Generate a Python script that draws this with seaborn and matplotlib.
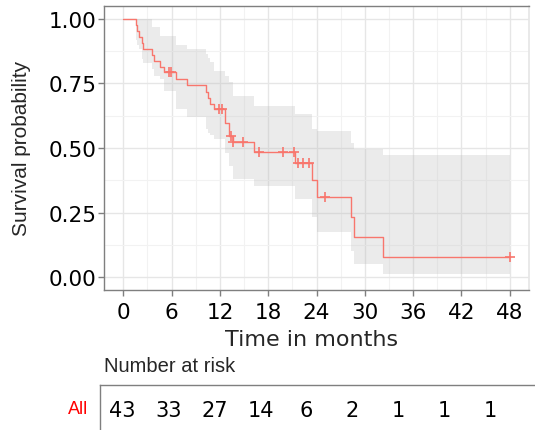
import matplotlib
matplotlib.use("Agg")
import matplotlib.pyplot as plt
import seaborn as sns
import pandas as pd
import numpy as np

# ---- data ----
step_times = [0, 1.58, 1.74, 1.92, 2.32, 2.42, 3.56, 3.85, 4.5, 5.0, 6.6, 7.9,
              10.3, 10.55, 10.8, 11.3, 12.65, 13.1, 13.6, 16.2, 21.3, 23.4,
              24.1, 28.3, 28.7, 32.3, 48.0]
surv = [1.0, 0.977, 0.953, 0.930, 0.907, 0.884, 0.861, 0.837, 0.814, 0.795,
        0.767, 0.744, 0.717, 0.694, 0.672, 0.651, 0.595, 0.548, 0.522, 0.484,
        0.443, 0.377, 0.311, 0.233, 0.156, 0.078, 0.078]
lower = [1.0, 0.92, 0.90, 0.884, 0.845, 0.83, 0.806, 0.78, 0.767, 0.72, 0.65,
         0.62, 0.574, 0.56, 0.55, 0.535, 0.48, 0.43, 0.38, 0.354, 0.302, 0.233,
         0.174, 0.10, 0.05, 0.012, 0.012]
upper = [1.0, 1.0, 1.0, 1.0, 1.0, 1.0, 0.97, 0.97, 0.934, 0.934, 0.90, 0.884,
         0.864, 0.85, 0.833, 0.80, 0.78, 0.756, 0.70, 0.663, 0.632, 0.574,
         0.567, 0.52, 0.496, 0.473, 0.473]

censor_times = [5.62, 5.9, 11.9, 12.3, 13.4, 13.65, 14.9, 16.9, 19.85, 21.2,
                21.7, 22.3, 23.1, 25.06, 48.0]
censor_surv = [0.795, 0.795, 0.651, 0.651, 0.548, 0.522, 0.522, 0.484, 0.484,
               0.484, 0.443, 0.443, 0.443, 0.311, 0.078]

risk_times = [0, 6, 12, 18, 24, 30, 36, 42, 48]
risk_counts = [43, 33, 27, 14, 6, 2, 1, 1, 1]
strata_label = "All"

x_ticks = [0, 6, 12, 18, 24, 30, 36, 42, 48]
y_ticks = [0.0, 0.25, 0.5, 0.75, 1.0]
y_tick_labels = ["0.00", "0.25", "0.50", "0.75", "1.00"]

# ---- styling ----
sns.set_theme(style="white")
plt.rcParams["font.family"] = ["DejaVu Sans"]

line_color = "#F8766D"
axis_color = "#7F7F7F"
grid_major = "#E6E6E6"
grid_minor = "#F2F2F2"

W, H = 535, 431
fig = plt.figure(figsize=(W / 100, H / 100), dpi=100)

def fx(px):
    return px / W

def fy(py):
    return 1 - py / H

# main axes
ax = fig.add_axes([fx(104), fy(291), fx(529) - fx(104), fy(7) - fy(291)])
df = pd.DataFrame({"time": step_times, "surv": surv, "lower": lower, "upper": upper})
ax.fill_between(df["time"], df["lower"], df["upper"], step="post",
                color="#BEBEBE", alpha=0.3, linewidth=0, zorder=2)
sns.lineplot(data=df, x="time", y="surv", drawstyle="steps-post", color=line_color,
             linewidth=1.0, ax=ax, zorder=3, estimator=None, sort=False)
cdf = pd.DataFrame({"time": censor_times, "surv": censor_surv})
sns.scatterplot(data=cdf, x="time", y="surv", marker="+", s=45, color=line_color,
                linewidth=1.2, ax=ax, zorder=4, legend=False)

ax.set_xlim(-2.4, 50.4)
ax.set_ylim(-0.05, 1.05)
ax.set_xticks(x_ticks)
ax.set_xticks([3, 9, 15, 21, 27, 33, 39, 45], minor=True)
ax.set_yticks(y_ticks)
ax.set_yticks([0.125, 0.375, 0.625, 0.875], minor=True)
ax.set_yticklabels(y_tick_labels)
ax.grid(True, which="major", color=grid_major, linewidth=1.0, zorder=0)
ax.grid(True, which="minor", color=grid_minor, linewidth=0.8, zorder=0)
ax.set_axisbelow(True)
for s in ["left", "bottom", "top"]:
    ax.spines[s].set_color(axis_color)
    ax.spines[s].set_linewidth(1.0)
ax.spines["right"].set_color("#E6E6E6")
ax.tick_params(axis="both", which="major", length=4, width=1, color=axis_color,
               labelsize=15.5, labelcolor="black", left=True, bottom=True)
ax.tick_params(axis="x", which="major", pad=4.5)
ax.tick_params(axis="y", which="major", pad=1.5)
ax.tick_params(axis="both", which="minor", length=0)
ax.set_xlabel("Time in months", fontsize=16, ha="center", va="center")
ax.xaxis.set_label_coords((312 - 104) / 425, (291 - 340) / 284)
ax.set_ylabel("Survival probability", fontsize=15, family=["Liberation Sans"],
              ha="center", va="center")
ax.yaxis.set_label_coords((22 - 104) / 425, (291 - 148) / 284)

# risk table
x0_px, scale = 122.7, 7.656
tax = fig.add_axes([fx(100), fy(431), fx(535) - fx(100), fy(386) - fy(431)])
tax.set_xlim((100 - x0_px) / scale, (535 - x0_px) / scale)
tax.set_ylim(0, 1)
for t, n in zip(risk_times, risk_counts):
    tax.text(t, 0.45, str(n), ha="center", va="center", fontsize=15, color="black")
tax.set_xticks([])
tax.set_yticks([])
for s in ["right", "bottom"]:
    tax.spines[s].set_visible(False)
for s in ["left", "top"]:
    tax.spines[s].set_color(axis_color)
    tax.spines[s].set_linewidth(1.0)
fig.text(fx(88), fy(410), strata_label, ha="right", va="center", fontsize=13,
         color="#FF0000", family=["Liberation Sans"])
fig.text(fx(104), fy(366), "Number at risk", ha="left", va="center", fontsize=14.5,
         family=["Liberation Sans"])

fig.savefig("out.png", dpi=100)
